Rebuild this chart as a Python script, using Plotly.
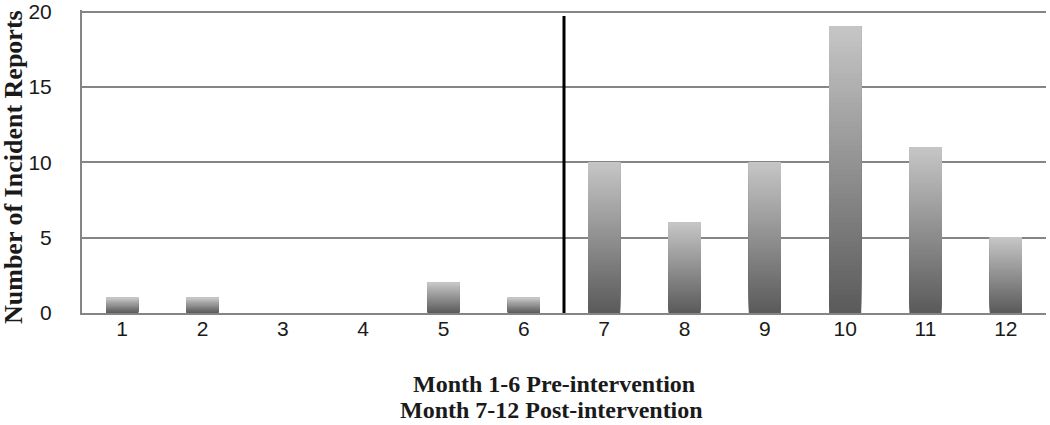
import plotly.graph_objects as go

months = [1, 2, 3, 4, 5, 6, 7, 8, 9, 10, 11, 12]
reports = [1, 1, 0, 0, 2, 1, 10, 6, 10, 19, 11, 5]
tick_labels = [str(m) for m in months]
y_ticks = [0, 5, 10, 15, 20]
divider_x = 6.5
divider_top = 19.7
x_title_lines = ["Month 1-6 Pre-intervention", "Month 7-12 Post-intervention"]
y_title = "Number of Incident Reports"

N_SEG = 60
bottom_rgb = (90, 90, 90)
top_rgb = (198, 198, 198)

fig = go.Figure()
for k in range(N_SEG):
    t = (k + 0.5) / N_SEG
    r, g, b = [int(round(bottom_rgb[i] + (top_rgb[i] - bottom_rgb[i]) * t)) for i in range(3)]
    col = f"rgb({r},{g},{b})"
    # each segment runs from its level to the top of the bar; later ones overlap, so no seams
    fig.add_trace(go.Bar(
        x=months,
        base=[v * k / N_SEG for v in reports],
        y=[v * (N_SEG - k) / N_SEG for v in reports],
        width=0.4,
        marker=dict(color=col, line=dict(width=0)),
        showlegend=False,
        hoverinfo="skip",
    ))

fig.add_shape(type="line", x0=divider_x, x1=divider_x, y0=0, y1=divider_top,
              xref="x", yref="y", line=dict(color="black", width=3))

L, R, T, B = 82, 4, 10, 112
W, H = 1050, 425
pw, ph = W - L - R, H - T - B

def px_x(px):
    return (px - L) / pw

def px_y(py):
    return (H - B - py) / ph

font_title = dict(family="Liberation Serif", size=24, color="#1a1a1a")
fig.add_annotation(text=f"<b>{x_title_lines[0]}</b>", x=px_x(554), y=px_y(384),
                   xref="paper", yref="paper", showarrow=False,
                   xanchor="center", yanchor="middle", font=font_title)
fig.add_annotation(text=f"<b>{x_title_lines[1]}</b>", x=px_x(551), y=px_y(410),
                   xref="paper", yref="paper", showarrow=False,
                   xanchor="center", yanchor="middle", font=font_title)
fig.add_annotation(text=f"<b>{y_title}</b>", x=px_x(14), y=px_y(167),
                   xref="paper", yref="paper", showarrow=False, textangle=-90,
                   xanchor="center", yanchor="middle",
                   font=dict(family="Liberation Serif", size=26, color="#1a1a1a"))

tick_font = dict(family="Liberation Sans", size=21, color="#1a1a1a")
fig.update_layout(
    width=W, height=H,
    margin=dict(l=L, r=R, t=T, b=B, autoexpand=False),
    paper_bgcolor="white", plot_bgcolor="white",
    barmode="overlay",
    xaxis=dict(
        tickmode="array", tickvals=months, ticktext=tick_labels,
        range=[0.5, 12.5], showgrid=False, zeroline=False,
        showline=True, linecolor="#858585", linewidth=2,
        ticks="", ticklabelstandoff=-4, automargin=False,
        tickfont=tick_font,
    ),
    yaxis=dict(
        range=[0, 20.1], tickmode="array", tickvals=y_ticks,
        showgrid=True, gridcolor="#858585", gridwidth=2,
        zeroline=False, showline=True, linecolor="#858585", linewidth=2,
        ticks="", ticklabelstandoff=24, automargin=False,
        ticklabeloverflow="allow",
        tickfont=tick_font,
    ),
)

fig.write_html("out.html", config={"displayModeBar": False},
               post_script="document.body.style.margin='0';")
